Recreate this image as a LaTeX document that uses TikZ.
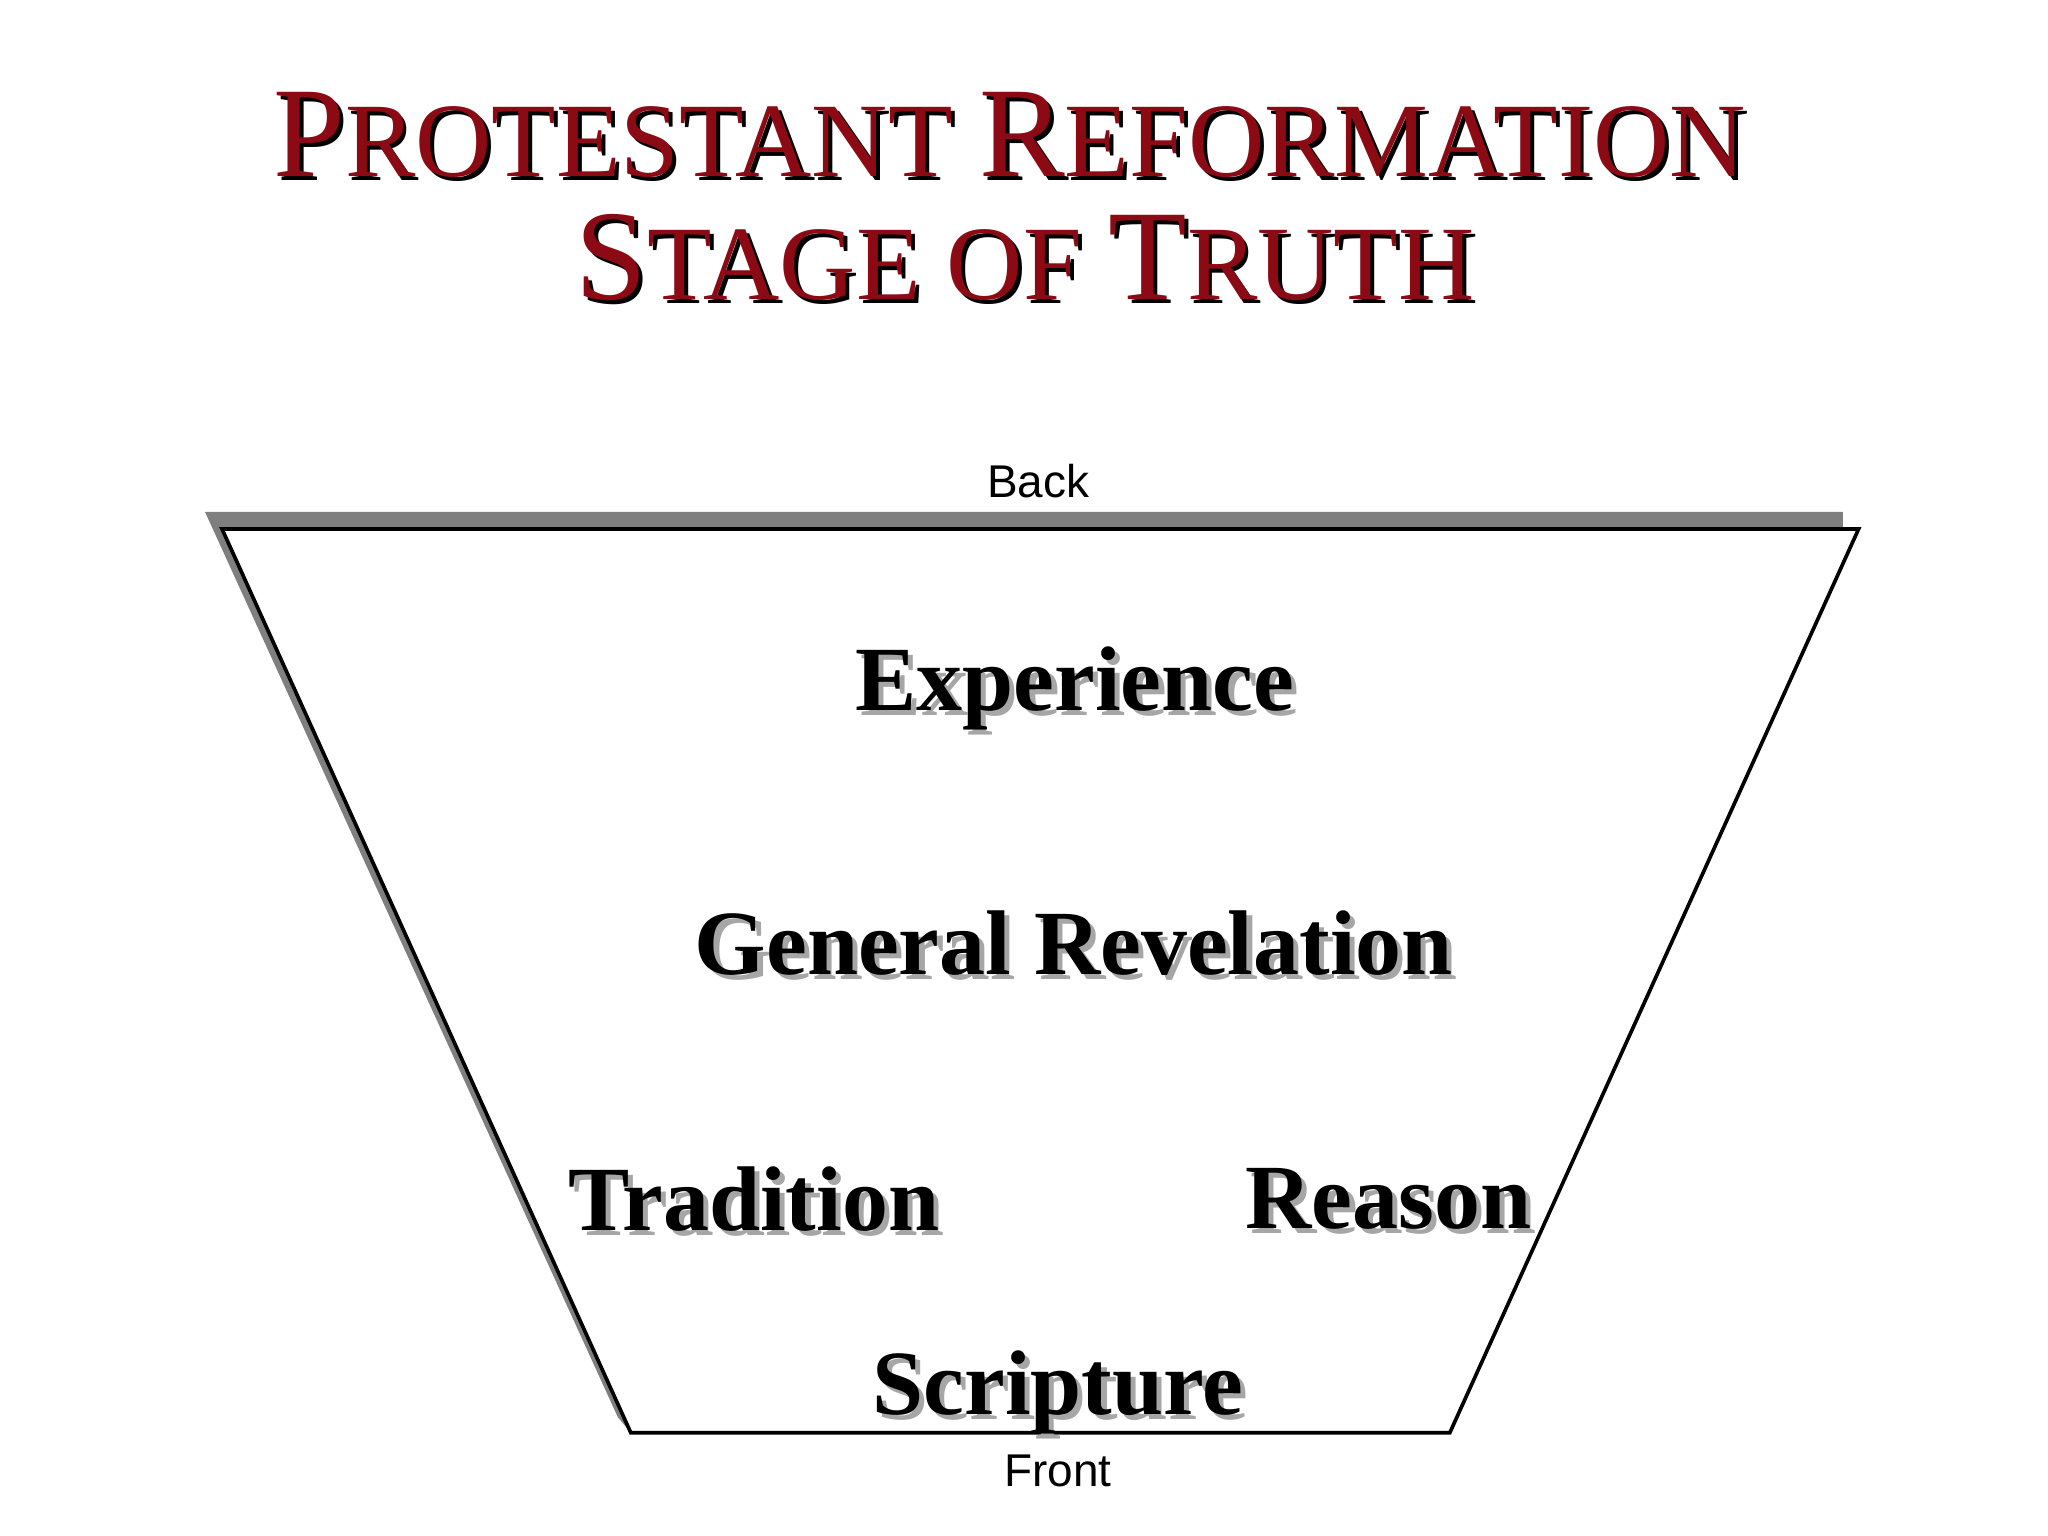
\documentclass[tikz,border=0pt]{standalone}
\usepackage{fontspec}
\setmainfont{Liberation Serif}
\newfontfamily\arialf{Liberation Sans}
\definecolor{titlered}{HTML}{8B0A14}
\definecolor{shadowgray}{HTML}{7F7F7F}
\begin{document}
\begin{tikzpicture}[x=0.01cm,y=-0.01cm,
  lbl/.style={font=\fontsize{20}{24}\selectfont\bfseries, inner sep=0pt},
  ttl/.style={inner sep=0pt},
  small/.style={font=\arialf\fontsize{10}{12}\selectfont, inner sep=0pt}]
\useasboundingbox (0,0) rectangle (1568,1176);
\newcommand{\Ttl}[1]{\fontsize{28}{32}\selectfont #1}
\newcommand{\ttlsm}[1]{\fontsize{23}{26}\selectfont #1}
% title
\foreach \col/\dx/\dy in {black/3/3, titlered/0/0}{
  \node[ttl,text=\col] (t1\col) at (773+\dx,103+\dy) {\Ttl{P}\ttlsm{ROTESTANT} \Ttl{R}\ttlsm{EFORMATION}};
  \node[ttl,text=\col] (t2\col) at (785+\dx,197+\dy) {\Ttl{S}\ttlsm{TAGE OF} \Ttl{T}\ttlsm{RUTH}};
}
% trapezoid shadow and body
\fill[shadowgray] (157,392) -- (1411,392) -- (1411,405) -- (483,1097) -- (473,1085) -- cycle;
\draw[black,fill=white,line width=0.8pt] (170,405) coordinate (tl) -- (1423,405) coordinate (tr) -- (1110,1097) coordinate (br) -- (483,1097) coordinate (bl) -- cycle;
\node[small] (back) at (795,368) {Back};
\node[small] (front) at (810,1126) {Front};
% labels with shadow
\foreach \name/\x/\y/\t in {exp/823/527/Experience, gen/822/722/General Revelation, tra/577/918/Tradition, rea/1063/918/Reason, scr/810/1066/Scripture}{
  \node[lbl,text=gray!70] (\name s) at (\x+4,\y+4) {\t};
  \node[lbl] (\name) at (\x,\y) {\t};
}
\end{tikzpicture}
\end{document}
